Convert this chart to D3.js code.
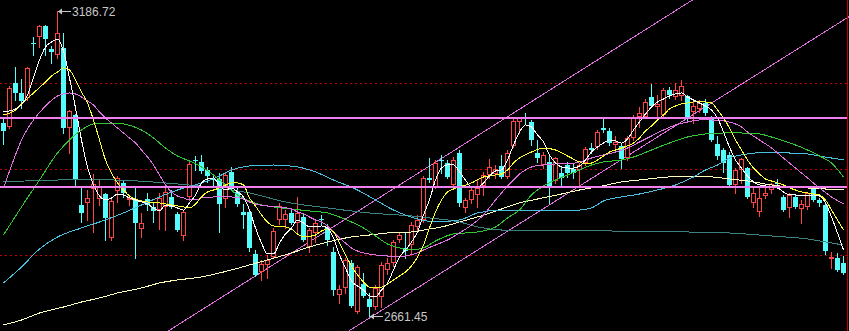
<!DOCTYPE html>
<html>
<head>
<meta charset="utf-8">
<script src="https://cdnjs.cloudflare.com/ajax/libs/d3/7.8.5/d3.min.js"></script>
<style>
  html, body { margin: 0; padding: 0; background: #000; overflow: hidden; }
</style>
</head>
<body>
<div id="kline"></div>
<script>

// daily candles
var opens = [2993.3,2986.4,3062.1,3044.9,3036.3,3130.9,3141.2,3160.1,3120.6,3110.2,
  3122.3,2984.7,3007.1,2852.3,2855.8,2879.8,2862.6,2871.2,2795.6,2876.4,
  2890.2,2860.9,2860.9,2811.1,2862.6,2848.9,2843.7,2848.9,2866.1,2836.9,
  2799.0,2866.1,2929.7,2926.3,2912.5,2897.0,2897.0,2862.6,2909.1,2874.7,
  2840.3,2840.3,2768.1,2737.1,2749.2,2762.9,2826.5,2826.5,2838.6,2821.4,
  2831.7,2780.1,2804.2,2828.3,2814.5,2771.5,2697.6,2709.6,2752.6,2668.4,
  2716.5,2690.7,2676.9,2694.1,2740.6,2752.6,2792.1,2778.4,2783.5,2814.5,
  2826.5,2898.8,2883.3,2929.7,2924.5,2886.7,2941.7,2847.2,2860.9,2869.5,
  2885.0,2903.9,2905.6,2919.4,2900.5,2953.8,2995.0,3001.9,2995.0,2941.7,
  2921.1,2926.3,2893.6,2907.3,2921.1,2914.2,2912.5,2924.5,2950.3,2952.0,
  2984.7,2979.6,2955.5,2953.8,2933.1,2967.5,3003.6,3003.6,3038.0,3020.8,
  3007.1,3050.1,3038.0,3039.7,3039.7,3012.2,3017.4,3027.7,3003.6,2957.2,
  2946.9,2938.3,2886.7,2912.5,2915.9,2855.8,2840.3,2867.8,2878.1,2890.2,
  2866.1,2847.2,2866.1,2845.4,2848.9,2881.6,2860.9,2852.3,2759.5,2761.2,
  2752.6];
var highs = [3001.9,3056.9,3089.6,3069.0,3089.6,3141.2,3161.8,3161.8,3125.7,3186.72,
  3148.1,3015.7,3008.8,2883.3,2878.1,2905.6,2895.3,2873.0,2866.1,2902.2,
  2895.3,2867.8,2881.6,2838.6,2873.0,2855.8,2873.0,2881.6,2878.1,2840.3,
  2843.7,2926.3,2936.6,2938.3,2917.7,2902.2,2907.3,2909.1,2917.7,2881.6,
  2854.0,2843.7,2775.0,2757.8,2766.4,2812.8,2855.8,2843.7,2847.2,2866.1,
  2836.9,2812.8,2826.5,2835.1,2819.7,2780.1,2714.8,2761.2,2757.8,2749.2,
  2735.4,2701.0,2714.8,2754.3,2761.2,2792.1,2805.9,2804.2,2823.1,2835.1,
  2902.2,2933.1,2929.7,2938.3,2929.7,2934.8,2946.9,2864.4,2883.3,2895.3,
  2909.1,2931.4,2921.1,2938.3,2946.9,3000.2,3003.6,3010.5,2998.5,2964.1,
  2943.4,2938.3,2934.8,2917.7,2926.3,2924.5,2924.5,2952.0,2958.9,2981.3,
  3003.6,2984.7,2971.0,2958.9,2971.0,3007.1,3020.8,3034.6,3060.4,3041.5,
  3053.5,3055.2,3062.1,3067.3,3041.5,3032.9,3032.9,3034.6,3005.4,2971.0,
  2950.3,2943.4,2915.9,2933.1,2917.7,2881.6,2881.6,2881.6,2890.2,2897.0,
  2869.5,2873.0,2869.5,2860.9,2874.7,2883.3,2864.4,2854.0,2771.5,2769.8,
  2764.6];
var lows = [2957.2,2984.7,3032.9,3019.1,3032.9,3110.2,3124.0,3110.2,3096.5,3105.1,
  2976.1,2941.7,2886.7,2823.1,2826.5,2805.9,2852.3,2792.1,2792.1,2857.5,
  2866.1,2852.3,2761.2,2797.3,2843.7,2823.1,2811.1,2809.3,2847.2,2807.6,
  2792.1,2860.9,2912.5,2907.3,2891.9,2886.7,2805.9,2848.9,2878.1,2850.6,
  2812.8,2773.2,2730.2,2723.4,2726.8,2761.2,2819.7,2812.8,2819.7,2805.9,
  2790.4,2771.5,2788.7,2819.7,2783.5,2697.6,2683.8,2701.0,2676.9,2666.6,
  2694.1,2661.45,2673.5,2676.9,2733.7,2747.4,2788.7,2761.2,2769.8,2809.3,
  2823.1,2891.9,2881.6,2907.3,2898.8,2885.0,2850.6,2840.3,2855.8,2848.9,
  2869.5,2898.8,2898.8,2898.8,2898.8,2952.0,2976.1,2991.6,2955.5,2926.3,
  2915.9,2855.8,2890.2,2885.0,2900.5,2898.8,2883.3,2921.1,2941.7,2948.6,
  2977.8,2955.5,2943.4,2915.9,2929.7,2964.1,2986.4,3001.9,3020.8,3001.9,
  3003.6,3036.3,3034.6,3032.9,2996.8,2993.3,3012.2,3007.1,2962.4,2931.4,
  2909.1,2885.0,2873.0,2890.2,2864.4,2848.9,2833.4,2864.4,2873.0,2883.3,
  2842.0,2831.7,2847.2,2821.4,2845.4,2859.2,2850.6,2768.1,2744.0,2738.8,
  2733.7];
var closes = [2979.6,3053.5,3044.9,3031.1,3087.9,3129.1,3160.1,3137.7,3115.4,3148.1,
  2984.7,3014.0,2895.3,2838.6,2864.4,2888.4,2883.3,2830.0,2859.2,2898.8,
  2873.0,2864.4,2821.4,2821.4,2852.3,2842.0,2864.4,2874.7,2848.9,2809.3,
  2840.3,2922.8,2928.0,2910.8,2902.2,2895.3,2854.0,2903.9,2883.3,2854.0,
  2835.1,2778.4,2732.0,2750.9,2757.8,2807.6,2850.6,2836.9,2821.4,2838.6,
  2792.1,2809.3,2821.4,2826.5,2792.1,2706.2,2707.9,2757.8,2678.7,2745.7,
  2695.9,2676.9,2709.6,2749.2,2752.6,2788.7,2800.7,2773.2,2817.9,2826.5,
  2898.8,2895.3,2924.5,2928.0,2900.5,2929.7,2855.8,2860.9,2878.1,2881.6,
  2903.9,2917.7,2914.2,2900.5,2941.7,2996.8,3001.9,3000.2,2964.1,2933.1,
  2938.3,2881.6,2933.1,2898.8,2907.3,2907.3,2921.1,2948.6,2946.9,2977.8,
  2981.3,2958.9,2960.6,2931.4,2967.5,3001.9,3010.5,3029.4,3022.5,3026.0,
  3050.1,3041.5,3050.1,3056.9,3000.2,3022.5,3027.7,3010.5,2964.1,2936.6,
  2924.5,2886.7,2912.5,2931.4,2866.1,2873.0,2864.4,2873.0,2888.4,2888.4,
  2843.7,2869.5,2848.9,2854.0,2873.0,2860.9,2855.8,2773.2,2762.9,2740.6,
  2735.4];

// moving averages as they show on the chart
var ma5 = [3012.2,3014.0,3017.4,3024.3,3041.5,3070.7,3101.6,3124.0,3132.6,3137.7,
  3117.1,3070.7,3019.1,2964.1,2917.7,2886.7,2867.8,2860.9,2864.4,2871.2,
  2869.5,2864.4,2860.9,2857.5,2854.0,2847.2,2842.0,2852.3,2850.6,2847.2,
  2843.7,2855.8,2869.5,2890.2,2897.0,2898.8,2885.0,2878.1,2881.6,2874.7,
  2866.1,2843.7,2812.8,2787.0,2768.1,2768.1,2787.0,2802.5,2812.8,2826.5,
  2821.4,2814.5,2814.5,2816.2,2812.8,2795.6,2766.4,2744.0,2721.6,2713.1,
  2706.2,2695.9,2694.1,2706.2,2718.2,2740.6,2762.9,2775.0,2788.7,2805.9,
  2835.1,2860.9,2895.3,2915.9,2921.1,2921.1,2909.1,2895.3,2883.3,2883.3,
  2890.2,2902.2,2910.8,2912.5,2929.7,2955.5,2977.8,2989.9,2986.4,2972.7,
  2960.6,2938.3,2924.5,2917.7,2915.9,2915.9,2919.4,2929.7,2943.4,2952.0,
  2958.9,2964.1,2962.4,2958.9,2965.8,2981.3,2995.0,3008.8,3020.8,3029.4,
  3034.6,3039.7,3043.2,3044.9,3038.0,3032.9,3027.7,3022.5,3015.7,3001.9,
  2977.8,2952.0,2929.7,2915.9,2902.2,2891.9,2886.7,2885.0,2883.3,2881.6,
  2874.7,2869.5,2869.5,2867.8,2867.8,2869.5,2867.8,2855.8,2831.7,2804.2,
  2775.0];
var ma10 = [[0,3007.1],[2,3015.7],[3,3026.0],[5,3044.9],[7,3063.8],[8,3074.1],[9,3081.0],[10,3087.9],
  [11,3084.4],[12,3067.3],[13,3046.6],[14,3027.7],[15,2998.5],[16,2964.1],[17,2929.7],[18,2907.3],
  [19,2890.2],[20,2878.1],[21,2867.8],[22,2862.6],[24,2857.5],[26,2855.8],[28,2852.3],[30,2848.9],
  [31,2847.2],[32,2854.0],[33,2866.1],[34,2874.7],[35,2878.1],[36,2881.6],[37,2886.7],[38,2890.2],
  [39,2890.2],[40,2886.7],[41,2864.4],[42,2850.6],[43,2835.1],[44,2823.1],[45,2816.2],[47,2814.5],
  [48,2811.1],[49,2802.5],[50,2797.3],[52,2800.7],[53,2807.6],[54,2811.1],[55,2805.9],[56,2787.0],
  [57,2766.4],[58,2747.4],[59,2732.0],[60,2719.9],[61,2711.3],[63,2711.3],[64,2716.5],[65,2723.4],
  [66,2730.2],[67,2737.1],[68,2747.4],[69,2762.9],[70,2783.5],[71,2812.8],[72,2840.3],[73,2860.9],
  [74,2874.7],[75,2879.8],[76,2883.3],[78,2890.2],[80,2900.5],[82,2903.9],[83,2905.6],[84,2912.5],
  [85,2924.5],[86,2933.1],[88,2943.4],[90,2950.3],[92,2946.9],[94,2936.6],[96,2926.3],[97,2922.8],
  [98,2924.5],[99,2929.7],[100,2936.6],[101,2943.4],[102,2946.9],[103,2950.3],[104,2953.8],[105,2958.9],
  [106,2967.5],[107,2979.6],[108,2988.2],[109,2998.5],[110,3007.1],[111,3017.4],[112,3022.5],[113,3026.0],
  [114,3027.7],[115,3029.4],[117,3029.4],[118,3027.7],[119,3015.7],[120,3001.9],[121,2984.7],[122,2964.1],
  [123,2946.9],[124,2929.7],[125,2915.9],[126,2905.6],[127,2897.0],[128,2893.6],[129,2890.2],[130,2886.7],
  [131,2881.6],[132,2878.1],[133,2874.7],[134,2873.0],[135,2871.2],[136,2869.5],[137,2860.9],[138,2843.7],
  [139,2826.5],[140,2809.3]];
var ma20 = [[0,2881.6],[2,2938.3],[3,2964.1],[5,2998.5],[7,3022.5],[9,3039.7],[11,3044.9],[12,3043.2],
  [13,3038.0],[14,3031.1],[15,3024.3],[16,3012.2],[17,3001.9],[18,2993.3],[19,2984.7],[20,2976.1],
  [21,2967.5],[22,2958.9],[23,2946.9],[24,2934.8],[25,2921.1],[26,2903.9],[27,2886.7],[28,2874.7],
  [29,2867.8],[30,2864.4],[31,2860.9],[32,2860.9],[33,2864.4],[35,2866.1],[38,2866.1],[40,2862.6],
  [41,2857.5],[42,2854.0],[44,2850.6],[46,2848.9],[48,2845.4],[49,2840.3],[50,2836.9],[51,2831.7],
  [52,2826.5],[53,2823.1],[54,2816.2],[55,2805.9],[56,2795.6],[57,2787.0],[58,2778.4],[59,2773.2],
  [60,2769.8],[62,2766.4],[64,2764.6],[66,2762.9],[67,2764.6],[69,2769.8],[70,2775.0],[72,2783.5],
  [74,2792.1],[76,2804.2],[78,2817.9],[80,2835.1],[82,2860.9],[83,2873.0],[84,2885.0],[85,2895.3],
  [86,2905.6],[87,2912.5],[88,2917.7],[90,2921.1],[92,2922.8],[94,2922.8],[96,2926.3],[98,2933.1],
  [100,2938.3],[102,2943.4],[104,2950.3],[106,2960.6],[108,2971.0],[110,2981.3],[112,2989.9],[114,2995.0],
  [116,2998.5],[118,2998.5],[120,2996.8],[122,2991.6],[123,2986.4],[124,2977.8],[126,2964.1],[128,2950.3],
  [130,2933.1],[132,2915.9],[134,2898.8],[136,2881.6],[138,2866.1],[140,2854.0]];
var ma30 = [[0,2800.7],[3,2848.9],[6,2895.3],[9,2941.7],[11,2964.1],[13,2981.3],[15,2991.6],[18,2993.3],
  [20,2991.6],[23,2981.3],[25,2967.5],[27,2950.3],[29,2936.6],[31,2928.0],[33,2917.7],[35,2903.9],
  [37,2886.7],[39,2869.5],[41,2859.2],[43,2852.3],[45,2848.9],[48,2845.4],[51,2842.0],[54,2838.6],
  [56,2831.7],[58,2823.1],[60,2812.8],[62,2799.0],[64,2785.3],[66,2778.4],[68,2775.0],[70,2778.4],
  [72,2790.4],[75,2802.5],[79,2805.9],[82,2814.5],[84,2830.0],[86,2843.7],[88,2869.5],[90,2885.0],
  [92,2895.3],[94,2903.9],[96,2912.5],[98,2921.1],[100,2926.3],[103,2929.7],[105,2934.8],[108,2946.9],
  [111,2958.9],[114,2969.2],[117,2974.4],[120,2976.1],[123,2976.1],[126,2974.4],[128,2969.2],[130,2962.4],
  [132,2955.5],[134,2946.9],[136,2936.6],[138,2924.5],[140,2900.5]];
var ma60 = [[0,2718.2],[3,2745.7],[6,2776.7],[9,2797.3],[13,2812.8],[16,2823.1],[20,2838.6],[23,2852.3],
  [26,2866.1],[29,2878.1],[33,2890.2],[36,2902.2],[38,2912.5],[41,2919.4],[45,2921.1],[49,2917.7],
  [52,2909.1],[55,2895.3],[59,2878.1],[62,2860.9],[65,2843.7],[69,2828.3],[72,2823.1],[76,2826.5],
  [79,2838.6],[83,2843.7],[87,2843.7],[92,2843.7],[96,2843.7],[98,2847.2],[100,2859.2],[103,2866.1],
  [106,2871.2],[109,2878.1],[112,2886.7],[115,2900.5],[117,2912.5],[119,2921.1],[121,2933.1],[124,2940.0],
  [128,2943.4],[131,2941.7],[134,2940.0],[137,2934.8],[140,2929.7]];
var ma120 = [[0,2891.9],[10,2895.3],[18,2895.3],[27,2890.2],[34,2883.3],[41,2873.0],[47,2857.5],[54,2847.2],
  [61,2838.6],[68,2833.4],[71,2830.0],[76,2823.1],[79,2814.5],[83,2809.3],[89,2807.6],[100,2807.6],
  [114,2805.9],[121,2804.2],[128,2799.0],[134,2793.9],[137,2788.7],[140,2783.5]];
var ma250 = [[0,2646.0],[3,2654.6],[6,2666.6],[10,2676.9],[13,2685.5],[16,2692.4],[19,2701.0],[23,2709.6],
  [26,2718.2],[29,2723.4],[33,2728.5],[36,2735.4],[38,2740.6],[41,2749.2],[44,2757.8],[48,2769.8],
  [51,2780.1],[54,2788.7],[58,2797.3],[61,2800.7],[64,2804.2],[68,2805.9],[71,2811.1],[73,2814.5],
  [76,2823.1],[79,2831.7],[83,2845.4],[86,2855.8],[89,2862.6],[93,2871.2],[96,2878.1],[99,2883.3],
  [103,2891.9],[106,2895.3],[109,2898.8],[111,2900.5],[114,2900.5],[118,2900.5],[121,2897.0],[124,2893.6],
  [128,2886.7],[131,2883.3],[134,2881.6],[137,2879.8],[140,2878.1]];

// dotted grid, flat pink levels, channel anchors [index, price]
var gridLevels = [3062.1, 2914.2, 2766.4];
var levelLines = [3001.9, 2883.3];
var channelUpper = [[69, 2906.3], [105, 3140.8]];
var channelLower = [[71, 2722.9], [106, 2949.8]];

function drawChart() {

  var svgWidth = 849;
  var svgHeight = 331;

  var svg = d3.select("#kline")
    .append("svg")
    .attr("width", svgWidth)
    .attr("height", svgHeight)
    .style("background", "#000")
    .style("display", "block");

  var n = closes.length;

  var xScale = d3.scaleLinear()
    .domain([0, n - 1])
    .range([3.5, 843.5]);

  var yScale = d3.scaleLinear()
    .domain([d3.min(lows), d3.max(highs)])
    .range([316, 10.5]);

  // red dotted grid
  svg.selectAll(".grid")
    .data(gridLevels)
    .enter()
    .append("line")
    .attr("x1", 0)
    .attr("x2", svgWidth - 2)
    .attr("y1", d => Math.round(yScale(d)) + 0.5)
    .attr("y2", d => Math.round(yScale(d)) + 0.5)
    .attr("stroke", "#c40000")
    .attr("stroke-width", 1)
    .attr("stroke-dasharray", "2,3")
    .attr("shape-rendering", "crispEdges");

  // trend channel, extended across the whole width
  function channel(pts) {
    var slope = (pts[1][1] - pts[0][1]) / (pts[1][0] - pts[0][0]);
    var i0 = xScale.invert(0), i1 = xScale.invert(svgWidth);
    return [[i0, pts[0][1] + (i0 - pts[0][0]) * slope], [i1, pts[0][1] + (i1 - pts[0][0]) * slope]];
  }
  [channelUpper, channelLower].forEach(function(pts) {
    var seg = channel(pts);
    svg.append("line")
      .attr("x1", xScale(seg[0][0]))
      .attr("y1", yScale(seg[0][1]))
      .attr("x2", xScale(seg[1][0]))
      .attr("y2", yScale(seg[1][1]))
      .attr("stroke", "#e070e0")
      .attr("stroke-width", 1)
      .attr("shape-rendering", "crispEdges");
  });

  var candles = d3.range(n).map(function(i) {
    return { i: i, o: opens[i], h: highs[i], l: lows[i], c: closes[i] };
  });

  var upColor = "#ff4646";
  var downColor = "#54fcfc";
  var colorOf = d => d.c >= d.o ? upColor : downColor;
  var cx = d => Math.floor(xScale(d.i));

  var candleGroup = svg.append("g").attr("shape-rendering", "crispEdges");

  candleGroup.selectAll(".wick")
    .data(candles)
    .enter()
    .append("line")
    .attr("x1", d => cx(d) + 0.5)
    .attr("x2", d => cx(d) + 0.5)
    .attr("y1", d => Math.round(yScale(d.h)))
    .attr("y2", d => Math.round(yScale(d.l)) + 1)
    .attr("stroke", colorOf)
    .attr("stroke-width", 1);

  candles.forEach(function(d) {
    var yo = yScale(d.o), yc = yScale(d.c);
    var top = Math.round(Math.min(yo, yc));
    var h = Math.round(Math.abs(yo - yc));
    var x = cx(d);
    if (h < 1) {
      candleGroup.append("line")
        .attr("x1", x - 2).attr("x2", x + 3)
        .attr("y1", top + 0.5).attr("y2", top + 0.5)
        .attr("stroke", colorOf(d));
    } else if (d.c >= d.o) {
      candleGroup.append("rect")
        .attr("x", x - 1.5).attr("y", top + 0.5)
        .attr("width", 4).attr("height", Math.max(h - 1, 1))
        .attr("fill", "#000")
        .attr("stroke", upColor)
        .attr("stroke-width", 1);
    } else {
      candleGroup.append("rect")
        .attr("x", x - 2).attr("y", top)
        .attr("width", 5).attr("height", h)
        .attr("fill", downColor);
    }
  });

  // moving averages
  var line = d3.line()
    .x(d => xScale(d[0]))
    .y(d => yScale(d[1]))
    .curve(d3.curveMonotoneX);

  var maSeries = [
    { pts: ma250, color: "#ffffc0" },
    { pts: ma120, color: "#3f8080" },
    { pts: ma60, color: "#48c0e0" },
    { pts: ma30, color: "#30c830" },
    { pts: ma20, color: "#e070e0" },
    { pts: ma10, color: "#ffff30" },
    { pts: ma5.map((v, i) => [i, v]), color: "#ffffff" }
  ];

  svg.selectAll(".ma")
    .data(maSeries)
    .enter()
    .append("path")
    .attr("d", d => line(d.pts))
    .attr("fill", "none")
    .attr("stroke", d => d.color)
    .attr("stroke-width", 1)
    .attr("shape-rendering", "crispEdges");

  // flat pink levels
  svg.selectAll(".level")
    .data(levelLines)
    .enter()
    .append("line")
    .attr("x1", 0)
    .attr("x2", svgWidth - 1)
    .attr("y1", d => Math.round(yScale(d)))
    .attr("y2", d => Math.round(yScale(d)))
    .attr("stroke", "#f080f0")
    .attr("stroke-width", 2)
    .attr("shape-rendering", "crispEdges");

  // high / low markers
  var hiIdx = d3.maxIndex(highs);
  var loIdx = d3.minIndex(lows);
  var marks = [
    { i: hiIdx, v: highs[hiIdx] },
    { i: loIdx, v: lows[loIdx] }
  ];

  marks.forEach(function(m) {
    var x0 = Math.floor(xScale(m.i)) + 1;
    var y0 = Math.round(yScale(m.v)) + 0.5;
    svg.append("line")
      .attr("x1", x0).attr("x2", x0 + 13)
      .attr("y1", y0).attr("y2", y0)
      .attr("stroke", "#c8c8c8");
    svg.append("path")
      .attr("d", `M${x0},${y0} L${x0 + 4},${y0 - 3} L${x0 + 4},${y0 + 3} Z`)
      .attr("fill", "#c8c8c8");
    svg.append("text")
      .attr("x", x0 + 14)
      .attr("y", y0 + 4.5)
      .attr("fill", "#c8c8c8")
      .attr("font-family", "Liberation Sans, Arial, sans-serif")
      .attr("font-size", "12px")
      .text(m.v.toFixed(2));
  });

  // right frame edge
  svg.append("line")
    .attr("x1", svgWidth - 1.5).attr("x2", svgWidth - 1.5)
    .attr("y1", 0).attr("y2", svgHeight)
    .attr("stroke", "#c00000");
}

document.addEventListener('DOMContentLoaded', function(){
  drawChart();
});
</script>
</body>
</html>
